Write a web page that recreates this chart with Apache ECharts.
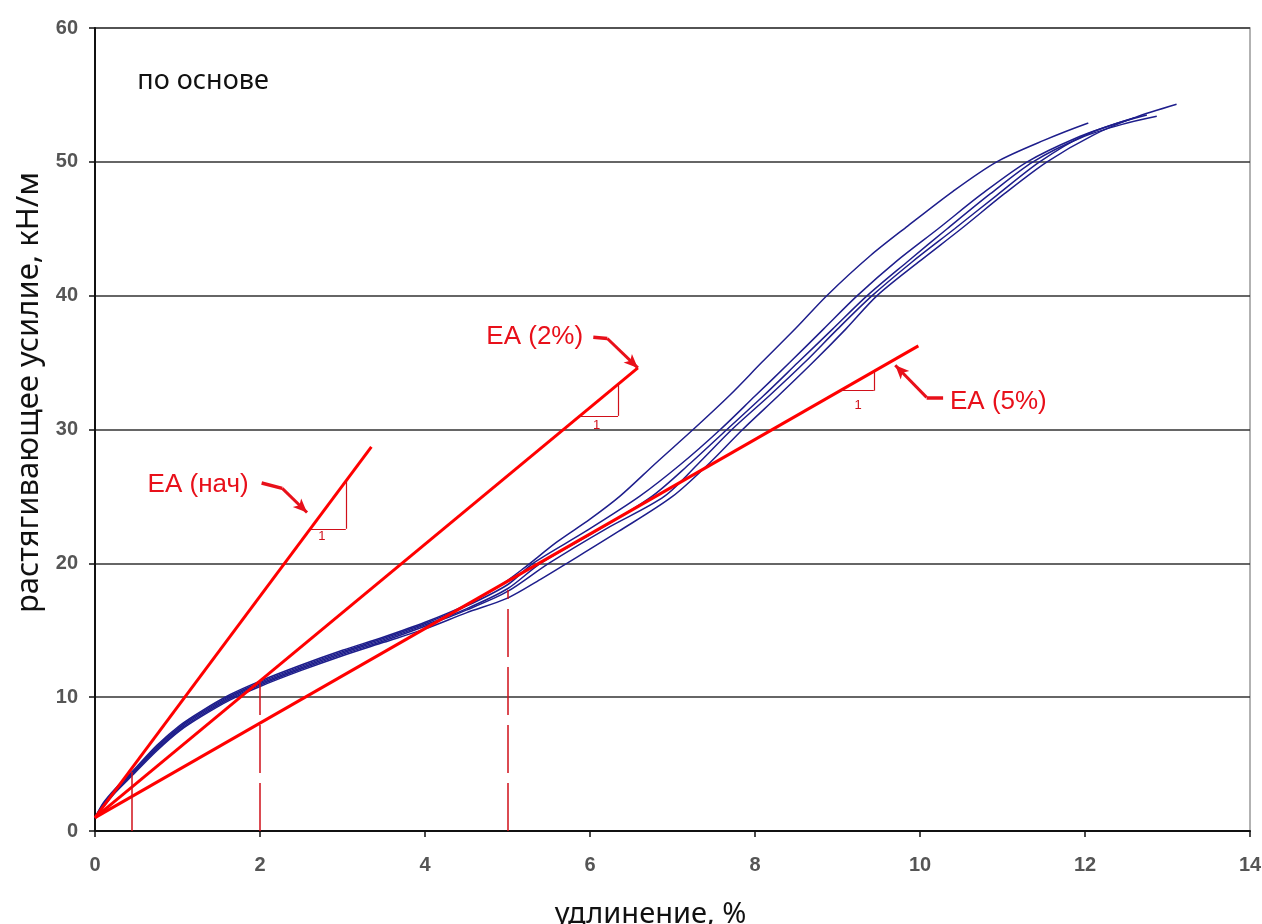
<!DOCTYPE html>
<html>
  <head>
    <meta charset="utf-8" />
    <title>ECharts</title>
    <script src="https://cdn.jsdelivr.net/npm/echarts@6/dist/echarts.min.js"></script>
  </head>
  <body style="margin:0">
    <div id="main" style="width: 1262px;height:924px; background-color: white"></div>
    <script type="text/javascript">
      var myChart = echarts.init(document.getElementById('main'));

      // кривые испытаний (удлинение %, усилие кН/м)
      var curveA = [[0,1],[0.1,2.1],[0.25,3.2],[0.46,4.5],[0.75,6.4],[1.03,7.9],[1.3,9.0],[1.64,10.2],[2.0,11.2],[2.5,12.4],[3.0,13.5],[3.5,14.5],[4.0,15.6],[4.5,16.9],[4.9,18.3],[5.19,19.6],[5.6,21.6],[6.0,23.3],[6.36,25.0],[6.8,27.5],[7.25,30.0],[7.7,32.6],[8.08,35.0],[8.5,37.6],[8.87,40.0],[9.4,43.0],[9.85,45.2],[10.4,47.8],[10.93,50.0],[11.5,51.6],[12.04,52.9]];
      var curveB = [[0,1],[0.1,2.0],[0.25,3.1],[0.46,4.4],[0.75,6.3],[1.03,7.8],[1.3,8.9],[1.64,10.1],[2.0,11.1],[2.5,12.3],[3.0,13.4],[3.5,14.4],[4.0,15.5],[4.5,16.8],[5.0,18.4],[5.31,20.0],[5.95,22.4],[6.6,25.0],[7.1,27.4],[7.58,30.0],[8.0,32.5],[8.42,35.0],[8.83,37.5],[9.24,40.0],[9.72,42.6],[10.22,45.0],[10.75,47.6],[11.3,50.0],[11.9,51.8],[12.4,52.9],[12.75,53.5]];
      var curveC = [[0,1],[0.1,1.9],[0.25,3.0],[0.46,4.3],[0.75,6.2],[1.03,7.7],[1.3,8.8],[1.64,10.0],[2.0,11.0],[2.5,12.2],[3.0,13.3],[3.5,14.3],[4.0,15.4],[4.5,16.6],[5.0,18.1],[5.4,20.0],[6.1,22.5],[6.75,25.0],[7.22,27.5],[7.66,30.0],[8.1,32.5],[8.52,35.0],[8.94,37.5],[9.36,40.0],[9.84,42.5],[10.33,45.0],[10.85,47.6],[11.37,50.0],[11.95,51.8],[12.45,52.8],[12.87,53.4]];
      var curveD = [[0,1],[0.1,1.9],[0.25,3.0],[0.46,4.3],[0.75,6.1],[1.03,7.6],[1.3,8.7],[1.64,9.9],[2.0,10.9],[2.5,12.1],[3.0,13.2],[3.5,14.2],[4.0,15.3],[4.5,16.5],[5.0,17.9],[5.5,20.0],[6.2,22.6],[6.9,25.0],[7.32,27.5],[7.72,30.0],[8.17,32.5],[8.6,35.0],[9.0,37.5],[9.42,40.0],[9.9,42.5],[10.42,45.0],[10.93,47.5],[11.45,50.0],[12.0,52.0],[12.6,53.3]];
      var curveE = [[0,1],[0.1,1.8],[0.25,2.9],[0.46,4.2],[0.75,6.0],[1.03,7.5],[1.3,8.6],[1.64,9.8],[2.0,10.8],[2.5,12.0],[3.0,13.1],[3.5,14.1],[4.0,15.1],[4.5,16.3],[5.0,17.4],[5.4,18.8],[5.72,20.0],[6.35,22.4],[7.0,25.0],[7.45,27.5],[7.85,30.0],[8.28,32.5],[8.7,35.0],[9.1,37.5],[9.48,40.0],[9.98,42.5],[10.5,45.0],[11.02,47.6],[11.54,50.0],[12.1,52.0],[12.6,53.3],[13.11,54.3]];
      var curves = [curveA, curveB, curveC, curveD, curveE];

      // касательные EA
      var eaInit = [[0,1],[3.35,28.7]];
      var ea2 = [[0,1],[6.58,34.6]];
      var ea5 = [[0,1],[9.98,36.25]];

      // вертикальные вспомогательные линии [x, верх]
      var guides = [[0.45,4.4,'solid'],[2,11.2,'dashed'],[5,18.0,'dashed']];

      // треугольники наклона [x0, x1, y0, y1]
      var triangles = [[2.61,3.04,22.58,26.14],[5.88,6.34,31.02,33.37],[9.03,9.44,32.9,34.34]];
      var triLabels = [[2.75,22.0],[6.08,30.3],[9.25,31.8]];

      // выноски: [начало, излом, остриё]
      var callouts = [
        [[2.02,26.0],[2.27,25.6],[2.57,23.8]],
        [[6.04,36.9],[6.21,36.8],[6.58,34.6]],
        [[10.28,32.4],[10.08,32.4],[9.70,34.8]]
      ];
      var calloutTexts = [['EA (нач)',1.25,25.9],['EA (2%)',5.33,36.9],['EA (5%)',10.95,32.1]];

      var red = '#ff0000';
      var darkRed = '#d0101a';

      var annotLines = [];
      guides.forEach(function (g) {
        annotLines.push([
          { coord: [g[0], 0], symbol: 'none', lineStyle: { color: darkRed, width: 1.5, type: g[2] === 'solid' ? 'solid' : [48, 10] } },
          { coord: [g[0], g[1]], symbol: 'none' }
        ]);
      });
      triangles.forEach(function (t) {
        annotLines.push([
          { coord: [t[0], t[2]], symbol: 'none', lineStyle: { color: darkRed, width: 1.2, type: 'solid' } },
          { coord: [t[1], t[2]], symbol: 'none' }
        ]);
        annotLines.push([
          { coord: [t[1], t[2]], symbol: 'none', lineStyle: { color: darkRed, width: 1.2, type: 'solid' } },
          { coord: [t[1], t[3]], symbol: 'none' }
        ]);
      });
      callouts.forEach(function (c) {
        annotLines.push([
          { coord: c[0], symbol: 'none', lineStyle: { color: '#e8101a', width: 3.5, type: 'solid' } },
          { coord: c[1], symbol: 'none' }
        ]);
        annotLines.push([
          { coord: c[1], symbol: 'none', lineStyle: { color: '#e8101a', width: 3, type: 'solid' } },
          { coord: c[2], symbol: 'arrow', symbolSize: [9, 14] }
        ]);
      });

      var annotPoints = [];
      annotPoints.push({
        coord: [1.31, 56.0], symbolSize: 0,
        label: { show: true, formatter: 'по основе', color: '#111', fontSize: 27, fontFamily: 'Noto Sans' }
      });
      calloutTexts.forEach(function (t) {
        annotPoints.push({
          coord: [t[1], t[2]], symbolSize: 0,
          label: { show: true, formatter: t[0], color: '#e8101a', fontSize: 26, fontFamily: 'Liberation Sans' }
        });
      });
      triLabels.forEach(function (p) {
        annotPoints.push({
          coord: p, symbolSize: 0,
          label: { show: true, formatter: '1', color: darkRed, fontSize: 13, fontFamily: 'Liberation Sans' }
        });
      });

      var series = [];
      curves.forEach(function (c, i) {
        series.push({
          name: 'образец ' + (i + 1),
          type: 'line',
          data: c,
          symbol: 'none',
          smooth: 0.3,
          lineStyle: { color: '#1e1e8c', width: 1.5 },
          z: 2
        });
      });
      [eaInit, ea2, ea5].forEach(function (l) {
        series.push({
          type: 'line',
          data: l,
          symbol: 'none',
          lineStyle: { color: red, width: 3 },
          z: 3
        });
      });
      series.push({
        type: 'line',
        data: [],
        z: 4,
        markLine: { silent: true, animation: false, label: { show: false }, data: annotLines },
        markPoint: { silent: true, animation: false, data: annotPoints }
      });

      var option = {
        animation: false,
        grid: {
          left: 95, right: 12, top: 28, bottom: 93,
          outerBoundsMode: 'none',
          containLabel: false,
          show: true, borderColor: '#999', borderWidth: 1.5
        },
        xAxis: {
          type: 'value',
          min: 0, max: 14, interval: 2,
          name: 'удлинение, %',
          nameLocation: 'middle',
          nameGap: 69,
          nameTextStyle: { fontSize: 29, color: '#111', fontFamily: 'Noto Sans', padding: [0, 44, 0, 0] },
          axisLine: { lineStyle: { color: '#111', width: 2 } },
          axisTick: { show: true, length: 6, lineStyle: { color: '#111', width: 1.5 } },
          axisLabel: { fontSize: 20, fontWeight: 'bold', color: '#555', margin: 24, fontFamily: 'Liberation Sans' },
          splitLine: { show: false }
        },
        yAxis: {
          type: 'value',
          min: 0, max: 60, interval: 10,
          name: 'растягивающее усилие, кН/м',
          nameLocation: 'middle',
          nameGap: 50,
          nameTextStyle: { fontSize: 31, color: '#111', fontFamily: 'Noto Sans', padding: [0, 0, 0, 74] },
          axisLine: { show: true, lineStyle: { color: '#111', width: 2 } },
          axisTick: { show: true, length: 6, lineStyle: { color: '#111', width: 1.5 } },
          axisLabel: { fontSize: 20, fontWeight: 'bold', color: '#555', margin: 17, fontFamily: 'Liberation Sans' },
          splitLine: { show: true, lineStyle: { color: '#333', width: 1.5 } }
        },
        series: series
      };

      myChart.setOption(option);
    </script>
  </body>
</html>
